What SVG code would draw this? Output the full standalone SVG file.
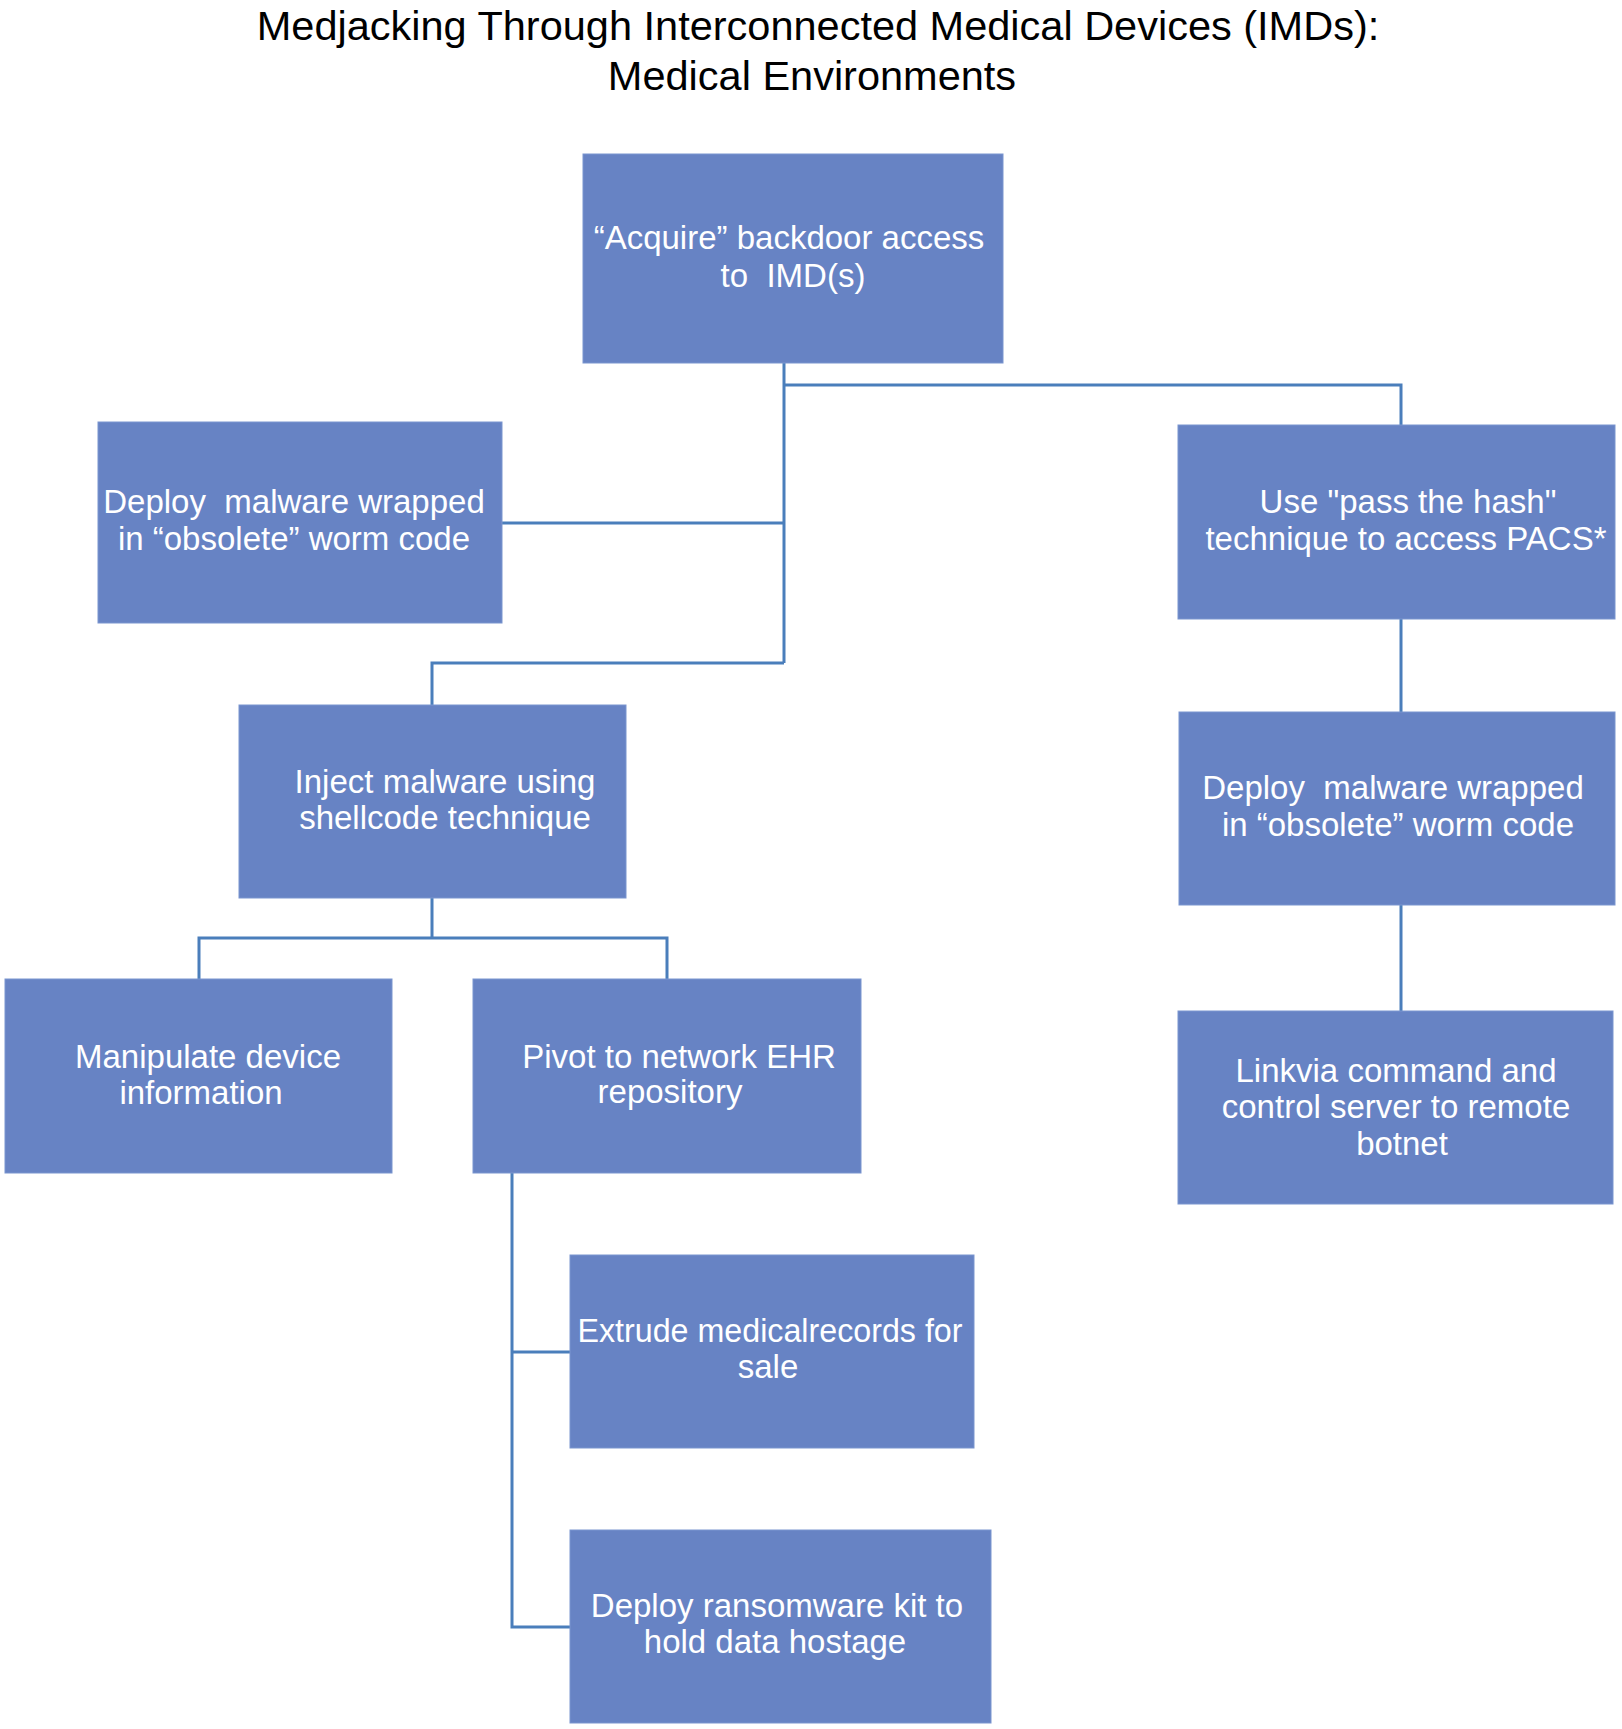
<svg xmlns="http://www.w3.org/2000/svg" width="1622" height="1729" viewBox="0 0 1622 1729">
<style>
.box{fill:#6783C4;stroke:#7A95CF;stroke-width:1}
.lbl{font-family:"Liberation Sans",Arial,sans-serif;font-size:33px;fill:#FFFFFF;text-anchor:middle;white-space:pre}
.title{font-family:"Liberation Sans",Arial,sans-serif;font-size:41.5px;fill:#000000;text-anchor:middle}
.conn{fill:none;stroke:#4A7EBB;stroke-width:3}
</style>
<rect x="0" y="0" width="1622" height="1729" fill="#FFFFFF"/>
<g id="title">
<text class="title" x="818" y="40">Medjacking Through Interconnected Medical Devices (IMDs):</text>
<text class="title" x="812" y="90">Medical Environments</text>
</g>
<g id="connectors">
<path class="conn" d="M784 363 V663 M784 385 H1401 V425 M502 523 H784 M784 663 H432 V705"/>
<path class="conn" d="M1401 619 V712 M1401 905 V1011"/>
<path class="conn" d="M432 898 V938 M199 979 V938 H667 V979"/>
<path class="conn" d="M512 1173 V1627 H570 M512 1352 H570"/>
</g>
<g id="node-acquire">
<rect class="box" x="583" y="154" width="420" height="209"/>
<text class="lbl" x="789" y="249">“Acquire” backdoor access</text>
<text class="lbl" x="793" y="287" xml:space="preserve">to  IMD(s)</text>
</g>
<g id="node-deploy-left">
<rect class="box" x="98" y="422" width="404" height="201"/>
<text class="lbl" x="294" y="513" xml:space="preserve">Deploy  malware wrapped</text>
<text class="lbl" x="294" y="550">in “obsolete” worm code</text>
</g>
<g id="node-pacs">
<rect class="box" x="1178" y="425" width="437" height="194"/>
<text class="lbl" x="1408" y="513">Use "pass the hash"</text>
<text class="lbl" x="1406" y="550">technique to access PACS*</text>
</g>
<g id="node-inject">
<rect class="box" x="239" y="705" width="387" height="193"/>
<text class="lbl" x="445" y="793">Inject malware using</text>
<text class="lbl" x="445" y="829">shellcode technique</text>
</g>
<g id="node-deploy-right">
<rect class="box" x="1179" y="712" width="436" height="193"/>
<text class="lbl" x="1393" y="799" xml:space="preserve">Deploy  malware wrapped</text>
<text class="lbl" x="1398" y="836">in “obsolete” worm code</text>
</g>
<g id="node-manipulate">
<rect class="box" x="5" y="979" width="387" height="194"/>
<text class="lbl" x="208" y="1068">Manipulate device</text>
<text class="lbl" x="201" y="1104">information</text>
</g>
<g id="node-pivot">
<rect class="box" x="473" y="979" width="388" height="194"/>
<text class="lbl" x="679" y="1068">Pivot to network EHR</text>
<text class="lbl" x="670" y="1103">repository</text>
</g>
<g id="node-link">
<rect class="box" x="1178" y="1011" width="435" height="193"/>
<text class="lbl" x="1396" y="1082">Linkvia command and</text>
<text class="lbl" x="1396" y="1118">control server to remote</text>
<text class="lbl" x="1402" y="1155">botnet</text>
</g>
<g id="node-extrude">
<rect class="box" x="570" y="1255" width="404" height="193"/>
<text class="lbl" x="770" y="1342" textLength="385" lengthAdjust="spacingAndGlyphs">Extrude medicalrecords for</text>
<text class="lbl" x="768" y="1378">sale</text>
</g>
<g id="node-ransomware">
<rect class="box" x="570" y="1530" width="421" height="193"/>
<text class="lbl" x="777" y="1617">Deploy ransomware kit to</text>
<text class="lbl" x="775" y="1653">hold data hostage</text>
</g>
</svg>
